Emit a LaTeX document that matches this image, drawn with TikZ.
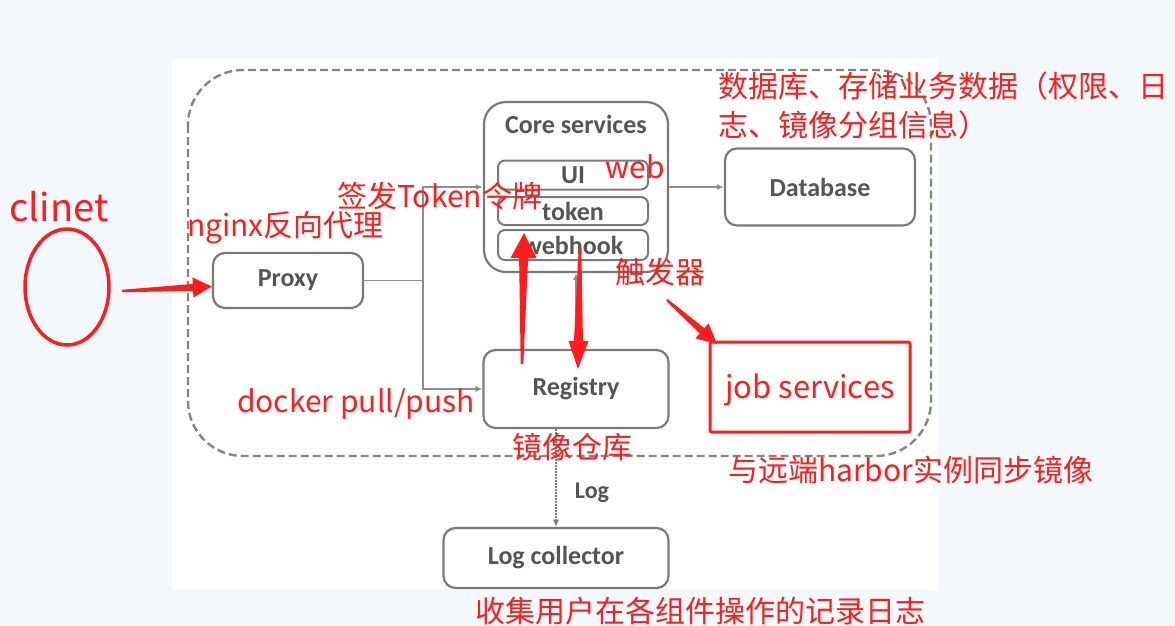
\documentclass[tikz,border=0pt]{standalone}
\usepackage{fontspec}
\setmainfont{Carlito}
\newfontfamily\cjk{Noto Sans CJK SC}
\usetikzlibrary{arrows.meta,calc,shapes.geometric}
\definecolor{bgblue}{HTML}{F3F8FC}
\definecolor{redc}{RGB}{255,28,28}
\definecolor{boxgray}{HTML}{7A7A7A}
\definecolor{txtgray}{HTML}{555555}
\definecolor{dashgray}{HTML}{858585}
% tapered red arrow: from #1 to #2, tail half width #3, shaft half width at head #4, head half width #5, head length #6
\newcommand\fatarrow[6]{%
  \path ($(#2)!#6!(#1)$) coordinate (hb);
  \fill[redc] ($(#1)!#3!90:(#2)$) -- ($(hb)!#4!90:(#2)$) -- ($(hb)!#5!90:(#2)$) -- (#2)
    -- ($(hb)!#5!-90:(#2)$) -- ($(hb)!#4!-90:(#2)$) -- ($(#1)!#3!-90:(#2)$) -- cycle;}
\begin{document}
\begin{tikzpicture}[x=1pt,y=-1pt,
  box/.style={draw=boxgray, line width=2.2pt, rounded corners=12pt, fill=white, text=txtgray,
    font=\bfseries\fontsize{26}{30}\selectfont, inner sep=0pt},
  sub/.style={box, rounded corners=7pt, line width=2pt},
  conn/.style={draw=boxgray!85, line width=1.8pt},
  tip/.style={-{Latex[length=7pt,width=6pt]}},
  rlab/.style={text=redc, font=\cjk\fontsize{30}{39}\selectfont, inner sep=0pt},
]
\useasboundingbox (0,0) rectangle (1175,626);
\fill[bgblue] (0,0) rectangle (1175,626);
\fill[white] (172,58) rectangle (938,590);
% outer dashed frame
\draw[dashgray, line width=2.4pt, dash pattern=on 8pt off 4pt, rounded corners=55pt] (188,70) rectangle (931,456);

% gray nodes
\node[box, rounded corners=22pt, minimum width=184pt, minimum height=170pt] (core) at (576,187) {};
\node[text=txtgray, font=\bfseries\fontsize{26}{30}\selectfont, inner sep=0pt] (coret) at (576,124) {Core services};
\node[sub, minimum width=150pt, minimum height=29pt] (ui) at (573,175) {UI};
\node[sub, minimum width=150pt, minimum height=28pt] (tok) at (573,211) {token};
\node[sub, minimum width=150pt, minimum height=30pt] (wh) at (573,245) {webhook};
\node[box, minimum width=150pt, minimum height=55pt] (proxy) at (288,280.5) {Proxy};
\node[box, minimum width=185pt, minimum height=78pt] (reg) at (576,389) {Registry};
\node[box, minimum width=190pt, minimum height=77pt] (db) at (820,187) {Database};
\node[box, minimum width=225pt, minimum height=60pt] (log) at (556,558) {Log collector};
\node[text=txtgray, font=\bfseries\fontsize{24}{28}\selectfont, inner sep=0pt] (loglab) at (592,493) {Log};

% gray connectors
\coordinate (jn) at (423,280.5);
\draw[conn] (proxy.east) -- (jn);
\draw[conn,tip] (jn) |- (core.west);
\draw[conn,tip] (jn) |- (reg.west);
\draw[conn,tip] (core.east) -- (db.west);
\draw[conn,tip] (reg.north) -- (core.south);
\draw[draw=boxgray, line width=1.5pt, dash pattern=on 1.5pt off 1.5pt, tip] (reg.south -| log.north) -- (log.north);

% red items
\node[draw=redc, line width=3.5pt, ellipse, minimum width=84pt, minimum height=116pt, inner sep=0pt] (client) at (67,287) {};
\node[draw=redc, line width=3pt, rounded corners=2pt, minimum width=200pt, minimum height=90pt,
  text=redc, font=\cjk\fontsize{31}{36}\selectfont, inner sep=0pt, text depth=0pt, text height=22pt] (job) at (810,387) {job services};

\node[rlab, font=\cjk\fontsize{38}{40}\selectfont] (clt) at (59,207) {clinet};
\node[rlab, anchor=west] (ngx) at (187,228) {nginx反向代理};
\node[rlab, anchor=west] (sign) at (337,196) {签发Token令牌};
\node[rlab] (webl) at (635,167) {web};
\node[rlab, anchor=north west, align=left] (dbl) at (718,72) {数据库、存储业务数据（权限、日\\志、镜像分组信息）};
\node[rlab] (trig) at (660,272) {触发器};
\node[rlab, anchor=west] (dock) at (237,404) {docker pull/push};
\node[rlab] (mirr) at (572,447) {镜像仓库};
\node[rlab, anchor=west] (sync) at (728,470) {与远端harbor实例同步镜像};
\node[rlab] (collect) at (700,611) {收集用户在各组件操作的记录日志};

% red arrows
\coordinate (ca0) at (122,291);
\coordinate (ptip) at ([yshift=-6pt]proxy.west);
\fatarrow{ca0}{ptip}{1.2pt}{3.5pt}{10pt}{19pt}
\coordinate (u0) at (522,364);
\coordinate (u1) at (524,233);
\fatarrow{u0}{u1}{1.3pt}{4.5pt}{13pt}{25pt}
\coordinate (d0) at (580,248);
\coordinate (d1) at (578,369);
\fatarrow{d0}{d1}{1.3pt}{4.5pt}{10pt}{28pt}
\coordinate (t0) at (667,300);
\coordinate (t1) at (717,344);
\fatarrow{t0}{t1}{1.2pt}{3.5pt}{10pt}{20pt}
\end{tikzpicture}
\end{document}
